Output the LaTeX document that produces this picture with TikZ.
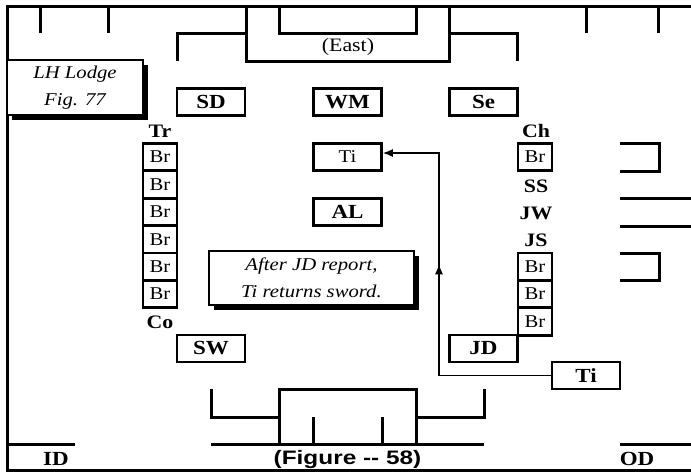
\documentclass[tikz,border=0pt]{standalone}
\usepackage{fontspec}
\setmainfont[FakeStretch=1.15]{Liberation Serif}
\newfontfamily\figsans[FakeStretch=1.25]{Liberation Sans}
\usetikzlibrary{arrows.meta,decorations.markings,shadows}
\begin{document}
\begin{tikzpicture}[x=1pt,y=-1pt,
  wall/.style={line width=3pt,line join=miter,line cap=butt},
  box/.style={draw,line width=2.8pt,inner sep=0pt,minimum width=68pt,minimum height=27pt,
    font=\fontsize{20}{20}\selectfont\bfseries},
  brbox/.style={draw,line width=2.8pt,inner sep=0pt,minimum width=34pt,minimum height=27.4pt,
    font=\fontsize{18}{18}\selectfont},
  lbl/.style={inner sep=0pt,font=\fontsize{19}{19}\selectfont\bfseries},
  notebox/.style={draw,line width=2.5pt,fill=white,align=center,inner sep=0pt,
    font=\fontsize{18}{27}\selectfont\itshape,
    drop shadow={shadow xshift=5pt,shadow yshift=-5pt,fill=black,opacity=1}},
  conn/.style={line width=1.2pt},
  tip/.style={-{Latex[length=10pt,width=8pt]}},
  midarrow/.style={postaction={decorate},decoration={markings,
    mark=at position 0.5 with {\arrow{Latex[length=10pt,width=8pt]}}}}
]
\useasboundingbox (0,0) rectangle (691,472);
% outer frame
\draw[wall] (691,6) -- (7,6) -- (7,470) -- (691,470);
% top ticks
\draw[wall] (40,6) -- (40,33);
\draw[wall] (108,6) -- (108,33);
\draw[wall] (586,6) -- (586,33);
\draw[wall] (658,6) -- (658,33);
% East
\draw[wall] (246,6) -- (246,61) -- (449,61) -- (449,6);
\draw[wall] (177,61) -- (177,33) -- (246,33);
\draw[wall] (449,33) -- (517,33) -- (517,61);
\draw[wall] (279,6) -- (279,33) -- (416,33) -- (416,6);
\node[inner sep=0pt,font=\fontsize{19}{19}\selectfont] (east) at (348,47) {(East)};
% notes
\node[notebox,minimum width=136pt,minimum height=55pt] (lh) at (75,87.5) {LH Lodge\\Fig. 77};
\node[notebox,minimum width=205pt,minimum height=54pt] (note) at (311.5,278) {After JD report,\\Ti returns sword.};
% officer boxes
\node[box] (sd) at (211,102) {SD};
\node[box] (wm) at (347.5,102) {WM};
\node[box] (se) at (483.5,102) {Se};
\node[box,font=\fontsize{18}{18}\selectfont] (ti) at (347.5,157) {Ti};
\node[box] (al) at (347.5,212) {AL};
\node[box] (sw) at (211,348.5) {SW};
\node[box] (jd) at (483.5,348.5) {JD};
\node[box] (tib) at (586,375.5) {Ti};
% left brethren
\node[brbox] (bl1) at (160,157) {Br};
\node[brbox] (bl2) at (160,184.4) {Br};
\node[brbox] (bl3) at (160,211.8) {Br};
\node[brbox] (bl4) at (160,239.2) {Br};
\node[brbox] (bl5) at (160,266.6) {Br};
\node[brbox] (bl6) at (160,294) {Br};
% right brethren
\node[brbox] (br1) at (535,157) {Br};
\node[brbox] (br2) at (535,266.6) {Br};
\node[brbox] (br3) at (535,294) {Br};
\node[brbox] (br4) at (535,321.4) {Br};
% labels
\node[lbl] (tr) at (160,131) {Tr};
\node[lbl] (co) at (160,322) {Co};
\node[lbl] (ch) at (536,131) {Ch};
\node[lbl] (ss) at (536,186) {SS};
\node[lbl] (jw) at (536,213) {JW};
\node[lbl] (js) at (536,240) {JS};
% right side
\draw[wall] (620,143) -- (659,143) -- (659,171) -- (620,171);
\draw[wall] (620,253) -- (659,253) -- (659,280) -- (620,280);
\draw[wall] (620,198) -- (691,198);
\draw[wall] (620,226) -- (691,226);
% West
\draw[wall] (211,389) -- (211,417) -- (279,417);
\draw[wall] (279,444) -- (279,389) -- (416,389) -- (416,444);
\draw[wall] (416,417) -- (484,417) -- (484,389);
\draw[wall] (313,417) -- (313,444);
\draw[wall] (382,417) -- (382,444);
\draw[wall] (211,444) -- (484,444);
\draw[wall] (7,444) -- (75,444);
\draw[wall] (620,444) -- (691,444);
% bottom labels
\node[lbl,font=\fontsize{20}{20}\selectfont\bfseries] (id) at (56,459) {ID};
\node[inner sep=0pt,font=\fontsize{19.5}{20}\selectfont\figsans\bfseries] (fig) at (347.5,459) {(Figure -- 58)};
\node[lbl,font=\fontsize{20}{20}\selectfont\bfseries] (od) at (637,459) {OD};
% connector
\coordinate (c1) at (439,375.5);
\coordinate (c2) at (439,153);
\draw[conn,tip] (tib.west) -- (c1) -- (c2) -- (c2 -| ti.east);
\draw[conn,midarrow] (c1) -- (c2);
\end{tikzpicture}
\end{document}
